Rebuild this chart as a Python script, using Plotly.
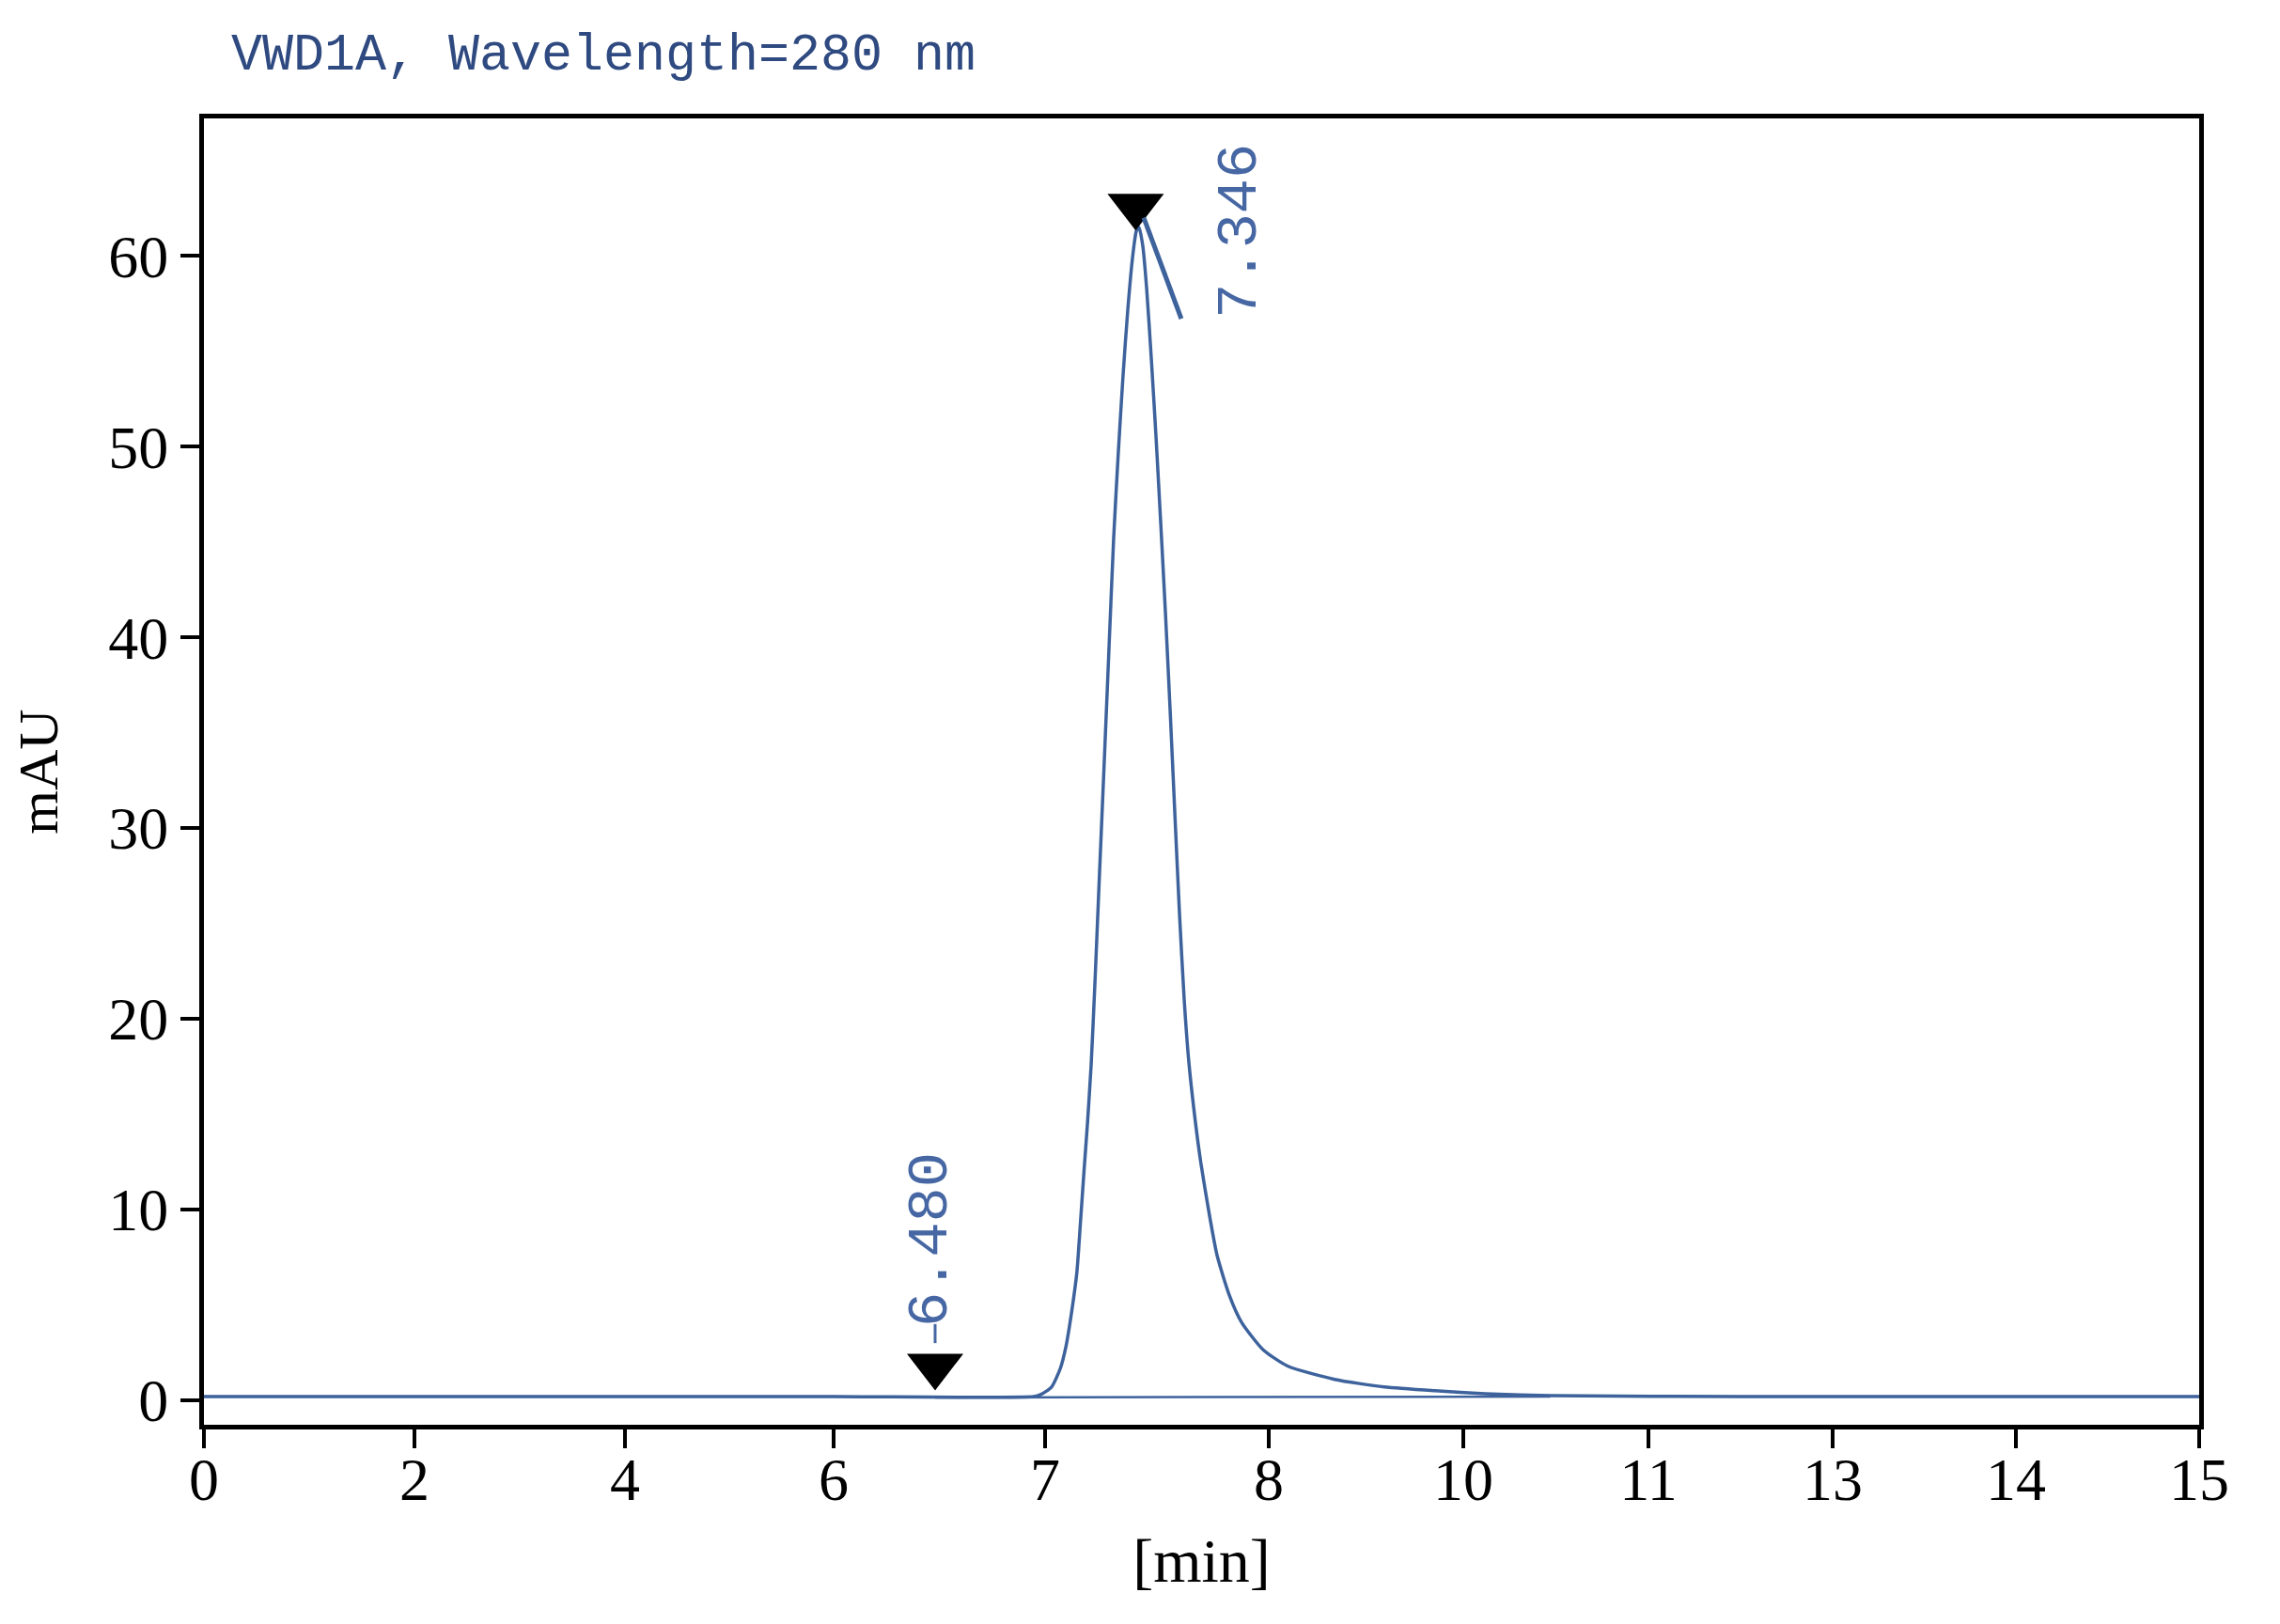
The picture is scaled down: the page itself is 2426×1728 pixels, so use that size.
import numpy as np
import plotly.graph_objects as go

# ---- data ----
TIME_MIN = [0.0, 3.0, 6.0, 6.947, 6.979, 7.029, 7.069, 7.093, 7.117, 7.142, 7.158, 7.174, 7.190,
            7.206, 7.223, 7.244, 7.265, 7.286, 7.307, 7.328, 7.349, 7.370, 7.391, 7.408, 7.420,
            7.437, 7.454, 7.475, 7.496, 7.517, 7.538, 7.559, 7.580, 7.601, 7.622, 7.643,
            7.672, 7.697, 7.735, 7.769, 7.824, 7.878, 7.975, 8.193, 8.676, 9.188, 9.710, 10.117,
            10.472, 12.0, 15.0]
SIGNAL_MAU = [0.2, 0.2, 0.2, 0.2, 0.3, 0.7, 1.7, 2.8, 4.5, 6.7, 9.3, 12.0, 14.6,
              17.6, 21.9, 27.8, 33.6, 39.5, 45.3, 49.8, 53.8, 57.2, 59.9, 61.3, 61.5,
              60.5, 58.3, 54.6, 50.5, 46.0, 41.3, 36.2, 30.8, 25.5, 21.0, 17.7,
              14.6, 12.4, 9.7, 7.6, 5.5, 4.1, 2.65, 1.8, 1.1, 0.7, 0.5, 0.35,
              0.25, 0.2, 0.2]

BASELINE_T = [6.48, 10.47]
BASELINE_Y = [0.15, 0.2]

PEAK_LABELS = ["6.480", "7.346"]
PEAK_MARK_T = [6.48, 7.405]
PEAK_MARK_Y = [1.8, 62.6]
PEAK_LABEL_T = [6.46, 7.874]
PEAK_LABEL_Y = [8.4, 61.3]

X_TICK_LABELS = [0, 2, 4, 6, 7, 8, 10, 11, 13, 14, 15]
Y_TICKS = [0, 10, 20, 30, 40, 50, 60]

TITLE = "VWD1A, Wavelength=280 nm"
X_TITLE = "[min]"
Y_TITLE = "mAU"

# axis warp: the printed time axis is not linear; ticks sit at these axis positions
AXIS_TICK_POS = [0.0, 1.5827, 3.1653, 4.7339, 6.3236, 8.0052, 9.4677, 10.8596, 12.2445, 13.6223, 15.0]


def warp(t):
    return np.interp(np.asarray(t, dtype=float), X_TICK_LABELS, AXIS_TICK_POS)


LINE_BLUE = "#3d629c"
TEXT_BLUE = "#4667a3"
TITLE_BLUE = "#2f4a80"
SERIF = "Liberation Serif"
MONO = "Liberation Mono"

fig = go.Figure()

fig.add_trace(go.Scatter(x=warp(BASELINE_T), y=BASELINE_Y, mode="lines",
                         line=dict(color=LINE_BLUE, width=2.5), hoverinfo="skip", showlegend=False))
fig.add_trace(go.Scatter(x=warp(TIME_MIN), y=SIGNAL_MAU, mode="lines",
                         line=dict(color=LINE_BLUE, width=3.5, shape="spline", smoothing=0.6),
                         showlegend=False))
fig.add_trace(go.Scatter(x=warp(PEAK_MARK_T), y=PEAK_MARK_Y, mode="markers",
                         marker=dict(symbol="triangle-down", size=52, color="black"),
                         showlegend=False))

# leader lines
fig.add_shape(type="line", xref="x", yref="y",
              x0=float(warp(6.48)), x1=float(warp(6.48)), y0=3.0, y1=4.0,
              line=dict(color=TEXT_BLUE, width=3))
fig.add_shape(type="line", xref="x", yref="y",
              x0=float(warp(7.441)), x1=float(warp(7.609)), y0=62.0, y1=56.7,
              line=dict(color=LINE_BLUE, width=5))

for lab, t, y in zip(PEAK_LABELS, PEAK_LABEL_T, PEAK_LABEL_Y):
    fig.add_annotation(x=float(warp(t)), y=y, xref="x", yref="y", text=lab, textangle=-90,
                       showarrow=False, font=dict(family=MONO, size=62, color=TEXT_BLUE),
                       xanchor="center", yanchor="middle")

fig.add_annotation(x=0.0127, y=1.048, xref="paper", yref="paper", text=TITLE, showarrow=False,
                   xanchor="left", yanchor="middle",
                   font=dict(family=MONO, size=55, color=TITLE_BLUE))

fig.update_layout(
    width=2426, height=1728,
    margin=dict(l=209, r=94, t=118, b=220),
    paper_bgcolor="white", plot_bgcolor="white",
    font=dict(family=SERIF, color="black"),
)
fig.update_xaxes(range=[0, 15], tickmode="array", tickvals=AXIS_TICK_POS,
                 ticktext=[str(v) for v in X_TICK_LABELS],
                 ticks="outside", ticklen=20, tickwidth=4, tickcolor="black",
                 ticklabelstandoff=-22,
                 showline=True, linewidth=5, linecolor="black", mirror=True,
                 showgrid=False, zeroline=False,
                 tickfont=dict(family=SERIF, size=64, color="black"),
                 title=dict(text=X_TITLE, font=dict(family=SERIF, size=66, color="black"), standoff=30))
fig.update_yaxes(range=[-1.28, 67.2], tickmode="array", tickvals=Y_TICKS,
                 ticks="outside", ticklen=20, tickwidth=4, tickcolor="black",
                 showline=True, linewidth=5, linecolor="black", mirror=True,
                 showgrid=False, zeroline=False,
                 tickfont=dict(family=SERIF, size=64, color="black"),
                 title=dict(text=Y_TITLE, font=dict(family=SERIF, size=60, color="black"), standoff=50))

fig.write_html("out.html")
